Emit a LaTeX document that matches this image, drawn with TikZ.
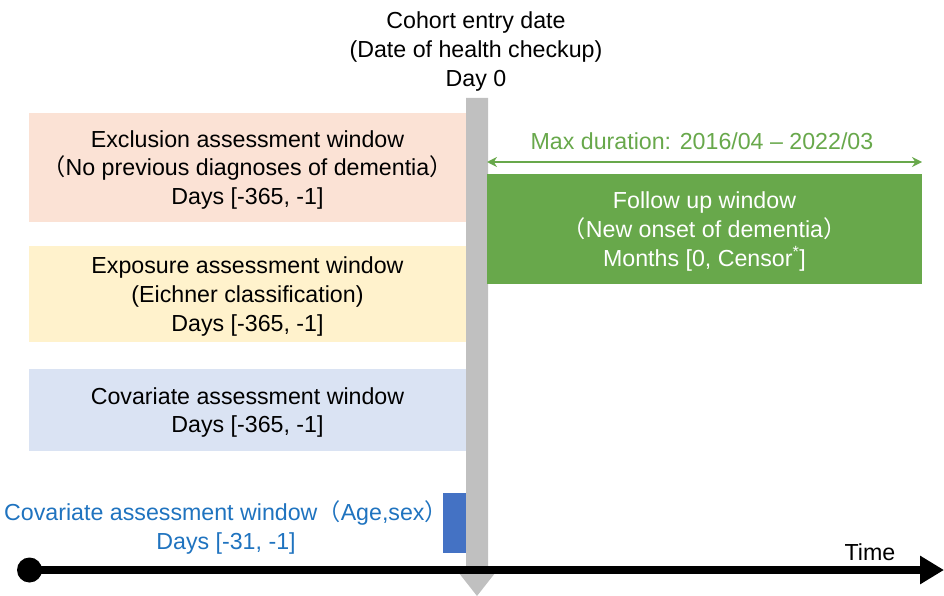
\documentclass[tikz,border=0pt]{standalone}
\usepackage{fontspec}
\setmainfont{Liberation Sans}
\newfontfamily\cjk{Noto Sans CJK SC}
\usetikzlibrary{arrows.meta}
\definecolor{peach}{HTML}{FBE2D5}
\definecolor{cream}{HTML}{FFF2CC}
\definecolor{paleblue}{HTML}{DAE3F3}
\definecolor{fugreen}{HTML}{68A84B}
\definecolor{barblue}{HTML}{4472C4}
\definecolor{txtblue}{HTML}{1F73BF}
\definecolor{bargray}{HTML}{C0C0C0}
\newcommand{\lp}{{\cjk （}}
\newcommand{\rp}{{\cjk ）}}
\tikzset{
  lbl/.style={align=center, inner sep=0pt, font=\fontsize{23.2}{28.6}\selectfont},
  window/.style={rectangle, draw=none, inner sep=0pt, align=center,
    font=\fontsize{23.2}{28.6}\selectfont},
}
\begin{document}
\begin{tikzpicture}[x=1pt,y=-1pt]
\useasboundingbox (0,0) rectangle (944,596);

% day-0 heading
\node[lbl] (entry) at (476,51.5) {Cohort entry date\\(Date of health checkup)\\Day 0};

% windows before day 0
\node[window, fill=peach, minimum width=437pt, minimum height=109pt] (excl) at (247.5,167.5) {};
\node[lbl] (excltxt) at (247.5,170)
  {Exclusion assessment window\\\lp No previous diagnoses of dementia\rp\\Days [-365, -1]};
\node[window, fill=cream, minimum width=437pt, minimum height=96pt] (expo) at (247.5,294) {};
\node[lbl] (expotxt) at (247.5,296.5)
  {Exposure assessment window\\(Eichner classification)\\Days [-365, -1]};
\node[window, fill=paleblue, minimum width=437pt, minimum height=82pt] (cov) at (247.5,410) {};
\node[lbl] (covtxt) at (247.5,412.5)
  {Covariate assessment window\\Days [-365, -1]};

% short window: age and sex
\node[rectangle, fill=barblue, inner sep=0pt, minimum width=23pt, minimum height=60pt] (agebar) at (454.5,523) {};
\node[lbl, text=txtblue] (agelbl) at (226,527.5)
  {Covariate assessment window\lp Age,sex\rp\\Days [-31, -1]};

% day-0 marker bar with arrow head
\fill[bargray] (466,98) -- (488,98) -- (488,568) -- (499,568) -- (477,596)
  -- (455,568) -- (466,568) -- cycle;

% follow-up window
\node[window, fill=fugreen, minimum width=435pt, minimum height=110pt] (follow) at (704.5,229) {};
\node[lbl, text=white] (followtxt) at (704.5,231.5)
  {Follow up window\\\lp New onset of dementia\rp\\Months [0, Censor\textsuperscript{*}]};
\coordinate (durL) at (487,162);
\coordinate (durR) at (922,162);
\draw[fugreen, line width=2.2pt, {Stealth[length=10pt,width=10pt]}-{Stealth[length=10pt,width=10pt]}] (durL) -- (durR);
\node[lbl, text=fugreen] (durlbl) at (702,141) {Max duration: 2016/04 -- 2022/03};

% time axis
\coordinate (tstart) at (29.5,570);
\coordinate (tend) at (944,570);
\draw[line width=7.5pt, -{Triangle[length=24pt,width=27pt]}] (tstart) -- (tend);
\fill (tstart) circle (12.5pt);
\node[lbl] (time) at (870,552) {Time};
\end{tikzpicture}
\end{document}
